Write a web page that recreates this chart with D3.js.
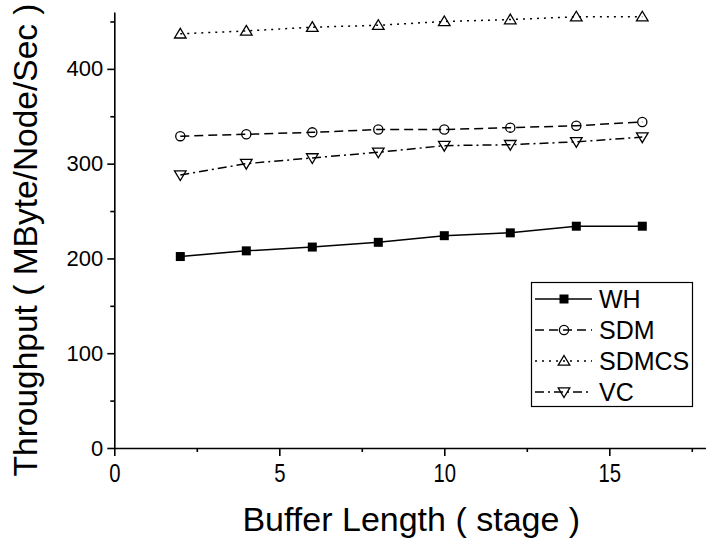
<!DOCTYPE html>
<html>
<head>
<meta charset="utf-8">
<script src="https://cdn.jsdelivr.net/npm/d3@7"></script>
<style>
  body { margin: 0; background: #fff; }
  svg { display: block; font-family: Arial, "Liberation Sans", sans-serif; }
</style>
</head>
<body>
<div class="chart"></div>
<script>
var width = 706, height = 541;

// data
var bufferLength = [2, 4, 6, 8, 10, 12, 14, 16];
var wh     = [202, 208, 212, 217, 224, 227, 234, 234];
var sdm    = [329, 331, 333, 336, 336, 338, 340, 344];
var sdmcs  = [437, 440, 444, 446, 450, 452, 455, 455];
var vc     = [288, 300, 306, 312, 319, 320, 323, 328];

var seriesNames = ["WH", "SDM", "SDMCS", "VC"];
var xTicks = [0, 5, 10, 15];
var xMinor = [2.5, 7.5, 12.5, 17.5];
var yTicks = [0, 100, 200, 300, 400];
var yMinor = [50, 150, 250, 350, 450];

var series = [
    { name: seriesNames[0], values: wh,    dash: null,        marker: "square" },
    { name: seriesNames[1], values: sdm,   dash: "9,5",       marker: "circle" },
    { name: seriesNames[2], values: sdmcs, dash: "2,5",       marker: "up" },
    { name: seriesNames[3], values: vc,    dash: "9,4,2,4",   marker: "down" }
];

var svg = d3.select(".chart").append("svg")
    .attr("width", width)
    .attr("height", height);

var x = d3.scaleLinear().domain([0, 18]).range([114.3, 708.3]);
var y = d3.scaleLinear().domain([0, 460]).range([448, 12]);

// axes
var xAxis = svg.append("g").attr("transform", "translate(0," + y(0) + ")")
    .call(d3.axisBottom(x).tickValues(xTicks).tickSize(8).tickSizeOuter(0).tickFormat(d3.format("d")));
svg.append("g").attr("transform", "translate(0," + y(0) + ")")
    .call(d3.axisBottom(x).tickValues(xMinor).tickSize(4).tickSizeOuter(0).tickFormat(""))
    .select(".domain").remove();

var yAxis = svg.append("g").attr("transform", "translate(" + x(0) + ",0)")
    .call(d3.axisLeft(y).tickValues(yTicks).tickSize(7).tickSizeOuter(0).tickFormat(d3.format("d")));
svg.append("g").attr("transform", "translate(" + x(0) + ",0)")
    .call(d3.axisLeft(y).tickValues(yMinor).tickSize(4).tickSizeOuter(0).tickFormat(""))
    .select(".domain").remove();

svg.selectAll(".domain, .tick line")
    .attr("stroke", "#000")
    .attr("stroke-width", 1.6);

xAxis.selectAll(".tick text")
    .attr("font-size", 26)
    .attr("fill", "#000")
    .attr("y", 0)
    .attr("dy", 0)
    .attr("transform", "translate(0,34) scale(0.78,1)");

yAxis.selectAll(".tick text")
    .attr("font-size", 22)
    .attr("fill", "#000")
    .attr("x", -11);

// axis titles
svg.append("text")
    .attr("x", (x(0) + x(18)) / 2)
    .attr("y", 531)
    .attr("text-anchor", "middle")
    .attr("font-size", 34)
    .text("Buffer Length ( stage )");

svg.append("text")
    .attr("transform", "translate(37,240) rotate(-90)")
    .attr("text-anchor", "middle")
    .attr("font-size", 33.5)
    .text("Throughput ( MByte/Node/Sec )");

// marker drawing
function drawMarker(g, type, cx, cy) {
    if (type === "square") {
        g.append("rect")
            .attr("x", cx - 4.5).attr("y", cy - 4.5)
            .attr("width", 9).attr("height", 9)
            .attr("fill", "#000");
    } else if (type === "circle") {
        g.append("circle")
            .attr("cx", cx).attr("cy", cy).attr("r", 4.6)
            .attr("fill", "none").attr("stroke", "#000").attr("stroke-width", 1.3);
    } else if (type === "up") {
        g.append("path")
            .attr("d", "M" + cx + "," + (cy - 5.5) + "L" + (cx + 5.8) + "," + (cy + 4.2) + "L" + (cx - 5.8) + "," + (cy + 4.2) + "Z")
            .attr("fill", "none").attr("stroke", "#000").attr("stroke-width", 1.3);
    } else {
        g.append("path")
            .attr("d", "M" + cx + "," + (cy + 5.5) + "L" + (cx + 5.8) + "," + (cy - 4.2) + "L" + (cx - 5.8) + "," + (cy - 4.2) + "Z")
            .attr("fill", "none").attr("stroke", "#000").attr("stroke-width", 1.3);
    }
}

var line = d3.line()
    .x(function (d, i) { return x(bufferLength[i]); })
    .y(function (d) { return y(d); });

series.forEach(function (s) {
    var g = svg.append("g").attr("class", "series");
    g.append("path")
        .attr("d", line(s.values))
        .attr("fill", "none")
        .attr("stroke", "#000")
        .attr("stroke-width", 1.5)
        .attr("stroke-dasharray", s.dash);
    s.values.forEach(function (v, i) {
        drawMarker(g, s.marker, x(bufferLength[i]), y(v));
    });
});

// legend
var legend = svg.append("g").attr("class", "legend");
legend.append("rect")
    .attr("x", 531.5).attr("y", 282.5)
    .attr("width", 161).attr("height", 124)
    .attr("fill", "#fff")
    .attr("stroke", "#000")
    .attr("stroke-width", 1.2);

series.forEach(function (s, i) {
    var ly = 299 + i * 31;
    legend.append("line")
        .attr("x1", 535).attr("x2", 592)
        .attr("y1", ly).attr("y2", ly)
        .attr("stroke", "#000")
        .attr("stroke-width", 1.5)
        .attr("stroke-dasharray", s.dash);
    drawMarker(legend, s.marker, 564, ly);
    legend.append("text")
        .attr("x", 599)
        .attr("y", ly + 9)
        .attr("font-size", 25)
        .text(s.name);
});
</script>
</body>
</html>
